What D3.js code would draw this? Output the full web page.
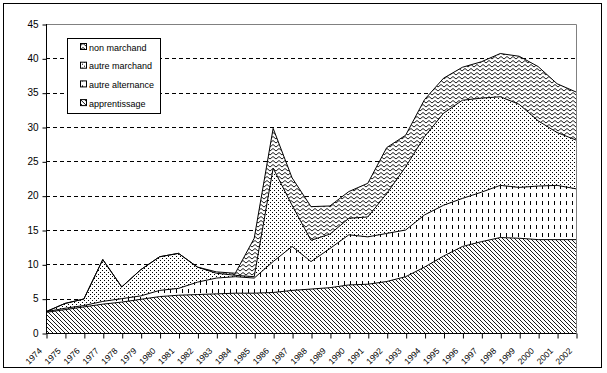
<!DOCTYPE html>
<html>
<head>
<meta charset="utf-8">
<script src="https://cdn.jsdelivr.net/npm/d3@7"></script>
<style>
  body { margin: 0; background: #fff; }
  svg { display: block; font-family: Arial, "Liberation Sans", sans-serif; }
</style>
</head>
<body>
<div id="graph"></div>
<script>
var years = d3.range(1974, 2003)

var apprentissage = [3.0, 3.4, 3.8, 4.2, 4.5, 4.9, 5.3, 5.5, 5.6, 5.7,
  5.8, 5.8, 5.9, 6.2, 6.4, 6.6, 7.0, 7.1, 7.5, 8.2,
  9.6, 11.2, 12.6, 13.3, 13.9, 13.8, 13.6, 13.6, 13.6]
var autreAlternance = [0.1, 0.2, 0.2, 0.4, 0.5, 0.5, 0.9, 1.0, 1.8, 2.3,
  2.4, 2.2, 4.5, 6.4, 4.0, 5.7, 7.3, 6.9, 7.0, 6.8,
  7.6, 7.4, 7.0, 7.2, 7.6, 7.4, 7.8, 7.9, 7.4]
var autreMarchand = [0.0, 0.7, 0.95, 6.1, 1.7, 3.8, 4.9, 5.1, 2.2, 0.7,
  0.2, 0.2, 13.6, 6.0, 3.1, 2.1, 2.4, 2.9, 5.8, 9.2,
  11.4, 13.4, 14.3, 13.7, 12.9, 12.1, 9.5, 7.7, 7.1]
var nonMarchand = [0, 0, 0, 0, 0, 0, 0, 0, 0, 0.2,
  0.3, 5.6, 5.8, 4.0, 4.9, 4.1, 3.9, 4.9, 6.7, 4.6,
  5.4, 5.1, 4.8, 5.3, 6.3, 7.0, 7.9, 7.1, 7.0]

var keys = ['apprentissage', 'autreAlternance', 'autreMarchand', 'nonMarchand']
var legendLabels = ['non marchand', 'autre marchand', 'autre alternance', 'apprentissage']
var yTicks = [0, 5, 10, 15, 20, 25, 30, 35, 40, 45]

var rows = years.map((yr, i) => ({
  year: yr,
  apprentissage: apprentissage[i],
  autreAlternance: autreAlternance[i],
  autreMarchand: autreMarchand[i],
  nonMarchand: nonMarchand[i]
}))

var W = 607, H = 373
var svg = d3.select('#graph').append('svg').attr('width', W).attr('height', H)

// hatch patterns, one per series
var defs = svg.append('defs')

var pHatch = defs.append('pattern').attr('id', 'p-apprentissage')
  .attr('patternUnits', 'userSpaceOnUse').attr('width', 4).attr('height', 4)
pHatch.append('rect').attr('width', 4).attr('height', 4).attr('fill', '#fff')
pHatch.append('path').attr('d', 'M-1,-1L5,5M-1,3L1,5M3,-1L5,1')
  .attr('stroke', '#000').attr('stroke-width', 0.9)

var pVert = defs.append('pattern').attr('id', 'p-autreAlternance')
  .attr('patternUnits', 'userSpaceOnUse').attr('width', 6).attr('height', 8)
pVert.append('rect').attr('width', 6).attr('height', 8).attr('fill', '#fff')
pVert.append('rect').attr('x', 2).attr('y', 1).attr('width', 1).attr('height', 4).attr('fill', '#000')

var pDots = defs.append('pattern').attr('id', 'p-autreMarchand')
  .attr('patternUnits', 'userSpaceOnUse').attr('width', 4).attr('height', 4)
pDots.append('rect').attr('width', 4).attr('height', 4).attr('fill', '#fff')
pDots.append('rect').attr('x', 0).attr('y', 0).attr('width', 1).attr('height', 1).attr('fill', '#000')
pDots.append('rect').attr('x', 2).attr('y', 2).attr('width', 1).attr('height', 1).attr('fill', '#000')

var pZig = defs.append('pattern').attr('id', 'p-nonMarchand')
  .attr('patternUnits', 'userSpaceOnUse').attr('width', 6).attr('height', 4)
pZig.append('rect').attr('width', 6).attr('height', 4).attr('fill', '#fff')
pZig.append('path').attr('d', 'M0,3L3,0.5L6,3').attr('fill', 'none')
  .attr('stroke', '#000').attr('stroke-width', 0.9)

// outer frame
svg.append('rect').attr('x', 3.5).attr('y', 3.5).attr('width', 598).attr('height', 364)
  .attr('fill', '#fff').attr('stroke', '#000')

var x = d3.scaleLinear().domain([1974, 2002]).range([46, 576])
var y = d3.scaleLinear().domain([0, 45]).range([333, 24])

// gridlines
svg.append('g').selectAll('line').data(yTicks.filter(d => d > 0 && d < 45)).join('line')
  .attr('x1', 46).attr('x2', 576)
  .attr('y1', d => Math.round(y(d)) + 0.5).attr('y2', d => Math.round(y(d)) + 0.5)
  .attr('stroke', '#000').attr('stroke-dasharray', '4,3')

// plot border top/right
svg.append('path')
  .attr('d', `M46,${Math.round(y(45)) + 0.5}H576.5V333`)
  .attr('fill', 'none').attr('stroke', '#808080')

var series = d3.stack().keys(keys)(rows)

var area = d3.area()
  .x(d => x(d.data.year))
  .y0(d => y(d[0]))
  .y1(d => y(d[1]))

var line = d3.line()
  .x(d => x(d.data.year))
  .y(d => y(d[1]))

svg.append('g').selectAll('path').data(series).join('path')
  .attr('d', area)
  .attr('fill', d => `url(#p-${d.key})`)

svg.append('g').selectAll('path').data(series).join('path')
  .attr('d', line)
  .attr('fill', 'none').attr('stroke', '#000').attr('stroke-width', 1)

// axes
var yAxis = svg.append('g').attr('transform', 'translate(46.5,0)')
  .call(d3.axisLeft(y).tickValues(yTicks).tickSize(4).tickPadding(4))
yAxis.selectAll('text').attr('font-size', 10).attr('fill', '#000').attr('font-family', null)
yAxis.selectAll('line').attr('stroke', '#000').attr('transform', 'translate(0,0.5)')
yAxis.select('.domain').attr('stroke', '#000').attr('d', `M0,${y(45)}V333`)

var xAxis = svg.append('g').attr('transform', 'translate(0,333.5)')
  .call(d3.axisBottom(x).tickValues(years).tickFormat(d3.format('d')).tickSize(5))
xAxis.select('.domain').attr('stroke', '#000').attr('d', 'M46,0H576.5')
xAxis.selectAll('line').attr('stroke', '#000').attr('transform', 'translate(0.5,0)')
xAxis.selectAll('text')
  .attr('font-size', 8.5).attr('fill', '#000').attr('font-family', null)
  .attr('text-anchor', 'end')
  .attr('dy', null)
  .attr('y', 0)
  .attr('transform', 'translate(-4,18) rotate(-45)')

// legend
var lg = svg.append('g')
lg.append('rect').attr('x', 67.5).attr('y', 38.5).attr('width', 93).attr('height', 75)
  .attr('fill', '#fff').attr('stroke', '#000')
var items = lg.selectAll('g.item').data(legendLabels).join('g')
  .attr('transform', (d, i) => `translate(80, ${47 + i * 18.7})`)
items.append('rect').attr('x', 0.5).attr('y', -3.5).attr('width', 6).attr('height', 6)
  .attr('fill', (d, i) => `url(#p-${keys[3 - i]})`).attr('stroke', '#000')
items.append('text').attr('x', 9).attr('y', 3.5)
  .attr('font-size', 9).text(d => d)
</script>
</body>
</html>
